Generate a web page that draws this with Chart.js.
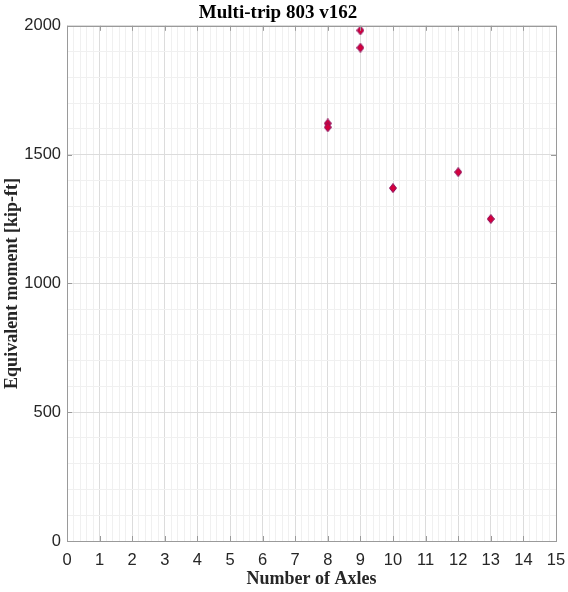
<!DOCTYPE html>
<html>
<head>
<meta charset="utf-8">
<script src="https://cdn.jsdelivr.net/npm/chart.js@4/dist/chart.umd.min.js"></script>
<style>
html,body{margin:0;padding:0;background:#fff;}
#wrap{width:568px;height:592px;}
</style>
</head>
<body>
<div id="wrap"><canvas id="c" width="568" height="592"></canvas></div>
<script>
// ---- data ----
const axles   = [8, 8, 9, 9, 10, 12, 13];
const moments = [1621, 1606, 1982, 1915, 1370, 1432, 1250];
const xTicksMajor = [0,1,2,3,4,5,6,7,8,9,10,11,12,13,14,15];
const yTicksMajor = [0,500,1000,1500,2000];
const chartTitle = 'Multi-trip 803 v162';
const xTitle = 'Number of Axles';
const yTitle = 'Equivalent moment [kip-ft]';

const points = axles.map((x, i) => ({x: x, y: moments[i]}));

// diamond marker (MATLAB 'd'), a bit taller than wide
function diamond(w, h) {
  const c = document.createElement('canvas');
  c.width = w; c.height = h;
  const g = c.getContext('2d');
  g.beginPath();
  g.moveTo(w/2, 0.5); g.lineTo(w-0.5, h/2); g.lineTo(w/2, h-0.5); g.lineTo(0.5, h/2); g.closePath();
  g.fillStyle = '#d4003c'; g.fill();
  g.lineWidth = 1; g.strokeStyle = '#8a1060'; g.stroke();
  return c;
}
const marker = diamond(8, 10);

const isMajor = (v, list) => list.some(t => Math.abs(t - v) < 1e-6);
const axisColor = '#9a9a9a';
const serif = '"Liberation Serif", "Times New Roman", serif';
const sans = '"Liberation Sans", Arial, sans-serif';

const boxPlugin = {
  id: 'box',
  afterDraw(chart) {
    const {ctx, chartArea: a, scales: {x, y}} = chart;
    ctx.save();
    ctx.strokeStyle = axisColor;
    ctx.lineWidth = 1;
    ctx.strokeRect(Math.round(a.left)+0.5, Math.round(a.top)+0.5, Math.round(a.right-a.left), Math.round(a.bottom-a.top));
    const L = 5;
    ctx.beginPath();
    xTicksMajor.forEach(t => {
      const px = Math.round(x.getPixelForValue(t)) + 0.5;
      ctx.moveTo(px, a.bottom); ctx.lineTo(px, a.bottom - L);
      ctx.moveTo(px, a.top); ctx.lineTo(px, a.top + L);
    });
    yTicksMajor.forEach(t => {
      const py = Math.round(y.getPixelForValue(t)) + 0.5;
      ctx.moveTo(a.left, py); ctx.lineTo(a.left + L, py);
      ctx.moveTo(a.right, py); ctx.lineTo(a.right - L, py);
    });
    ctx.stroke();
    ctx.restore();
  }
};

new Chart(document.getElementById('c'), {
  type: 'scatter',
  data: {
    datasets: [{
      data: points,
      pointStyle: marker,
      pointRadius: 5,
      pointHoverRadius: 5
    }]
  },
  plugins: [boxPlugin],
  options: {
    responsive: false,
    animation: false,
    events: [],
    layout: {padding: {left: 0, right: 12, top: 0, bottom: 0}},
    plugins: {
      legend: {display: false},
      tooltip: {enabled: false},
      title: {
        display: true,
        text: chartTitle,
        color: '#000',
        font: {family: serif, size: 19, weight: 'bold'},
        padding: {top: 2, bottom: 1}
      }
    },
    scales: {
      x: {
        type: 'linear',
        min: 0, max: 15,
        border: {display: false},
        grid: {
          drawTicks: false,
          color: c => isMajor(c.tick.value, xTicksMajor) ? '#dcdcdc' : '#f0f0f0',
          lineWidth: 1
        },
        ticks: {
          stepSize: 0.2,
          autoSkip: false,
          maxTicksLimit: 200,
          maxRotation: 0,
          padding: 10,
          color: '#262626',
          font: {family: sans, size: 16.5},
          callback: v => isMajor(v, xTicksMajor) ? String(Math.round(v)) : ''
        },
        title: {
          display: true,
          text: xTitle,
          color: '#262626',
          font: {family: serif, size: 18, weight: 'bold'},
          padding: {top: 0, bottom: 2}
        },
        afterFit: s => { s.height = 51; s.paddingLeft = 0; s.paddingRight = 0; }
      },
      y: {
        type: 'linear',
        min: 0, max: 2000,
        border: {display: false},
        grid: {
          drawTicks: false,
          color: c => isMajor(c.tick.value, yTicksMajor) ? '#dcdcdc' : '#f0f0f0',
          lineWidth: 1
        },
        ticks: {
          stepSize: 100,
          autoSkip: false,
          maxTicksLimit: 200,
          padding: 6,
          color: '#262626',
          font: {family: sans, size: 16.5},
          callback: v => isMajor(v, yTicksMajor) ? String(Math.round(v)) : ''
        },
        title: {
          display: true,
          text: yTitle,
          color: '#262626',
          font: {family: serif, size: 18, weight: 'bold'},
          padding: {top: 2, bottom: 0}
        },
        afterFit: s => { s.width = 67; s.paddingTop = 0; s.paddingBottom = 0; }
      }
    }
  }
});
</script>
</body>
</html>
